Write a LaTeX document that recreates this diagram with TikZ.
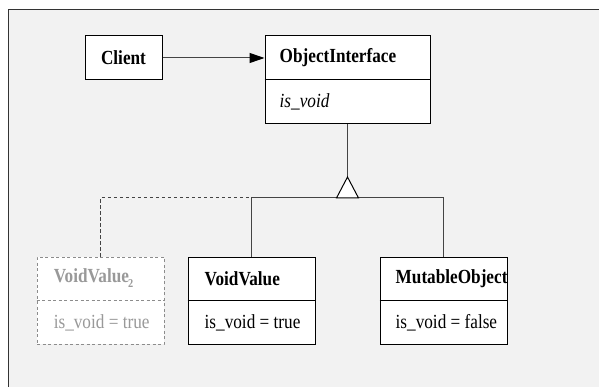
\documentclass[tikz,border=0pt]{standalone}
\usepackage{fontspec}
\setmainfont{Liberation Serif}
\newfontfamily\umlfont[FakeStretch=0.86]{Liberation Serif}
\usetikzlibrary{arrows.meta,calc}
\definecolor{bgcolor}{HTML}{F2F2F2}
\definecolor{framecolor}{HTML}{333333}
\definecolor{ghostcolor}{HTML}{999999}
\definecolor{ghostline}{HTML}{8C8C8C}
\definecolor{linkcolor}{HTML}{444444}

\tikzset{
    classbox/.style={draw=black, fill=white, line width=1pt, inner sep=0pt},
    ghostbox/.style={draw=ghostline, fill=white, line width=0.8pt, dashed, dash pattern=on 3pt off 2.5pt, inner sep=0pt},
    classtext/.style={anchor=west, inner sep=0pt, font=\umlfont\fontsize{20}{22}\selectfont},
    titletext/.style={classtext, font=\umlfont\fontsize{20}{22}\selectfont\bfseries},
    link/.style={draw=linkcolor, line width=1pt}
}

\begin{document}
\begin{tikzpicture}[x=1pt, y=-1pt]

    \useasboundingbox (0,0) rectangle (599,387);

    % Background frame
    \fill[bgcolor] (8,10) rectangle (599,387);
    \draw[framecolor, line width=1pt] (8,387) -- (8,10) -- (599,10);

    % Client
    \node[classbox, minimum width=77pt, minimum height=44pt] (client) at (123.5,58) {};
    \node[titletext, anchor=center] (clienttitle) at (client) {Client};

    % ObjectInterface
    \node[classbox, minimum width=165pt, minimum height=88pt] (oi) at (347.5,80) {};
    \draw[line width=1pt] (oi.west) -- (oi.east);
    \node[titletext] (oititle) at ($(oi.north west)!0.5!(oi.west) + (15,0)$) {ObjectInterface};
    \node[classtext, font=\umlfont\fontsize{20}{22}\selectfont\itshape] (oiattr) at ($(oi.south west)!0.5!(oi.west) + (15,0)$) {is\_void};

    % VoidValue_2 (greyed out)
    \node[ghostbox, minimum width=127pt, minimum height=87pt] (vvtwo) at (100.5,300.5) {};
    \draw[ghostline, line width=0.8pt, dash pattern=on 3pt off 2.5pt] (vvtwo.west) -- (vvtwo.east);
    \node[titletext, text=ghostcolor] (vvtwotitle) at ($(vvtwo.north west)!0.5!(vvtwo.west) + (17,0)$) {VoidValue\kern-1pt\raisebox{-5pt}{\fontsize{12}{12}\selectfont 2}};
    \node[classtext, text=ghostcolor] (vvtwoattr) at ($(vvtwo.south west)!0.5!(vvtwo.west) + (17,0)$) {is\_void = true};

    % VoidValue
    \node[classbox, minimum width=127pt, minimum height=87pt] (vv) at (251.5,300.5) {};
    \draw[line width=1pt] (vv.west) -- (vv.east);
    \node[titletext] (vvtitle) at ($(vv.north west)!0.5!(vv.west) + (17,0)$) {VoidValue};
    \node[classtext] (vvattr) at ($(vv.south west)!0.5!(vv.west) + (17,0)$) {is\_void = true};

    % MutableObject
    \node[classbox, minimum width=127pt, minimum height=87pt] (mo) at (443.5,300.5) {};
    \draw[line width=1pt] (mo.west) -- (mo.east);
    \node[titletext] (motitle) at ($(mo.north west)!0.5!(mo.west) + (16,0)$) {MutableObject};
    \node[classtext] (moattr) at ($(mo.south west)!0.5!(mo.west) + (16,0)$) {is\_void = false};

    % Association arrow
    \draw[link, -{Triangle[length=15pt, width=10pt, color=black]}] (client.east) -- (client.east -| oi.west);

    % Generalisation
    \coordinate (apex) at (oi.south |- 0,177);
    \coordinate (fork) at (oi.south |- 0,198);
    \draw[link] (oi.south) -- (apex);
    \draw[link] (vv.north) |- (fork -| mo.north) -- (mo.north);
    \draw[linkcolor, line width=1pt, dashed, dash pattern=on 3.5pt off 2.5pt] (vvtwo.north) |- (fork -| vv.north);
    \draw[black, line width=1pt, fill=white] (apex) -- ($(fork) + (11,0)$) -- ($(fork) + (-11,0)$) -- cycle;

\end{tikzpicture}
\end{document}
